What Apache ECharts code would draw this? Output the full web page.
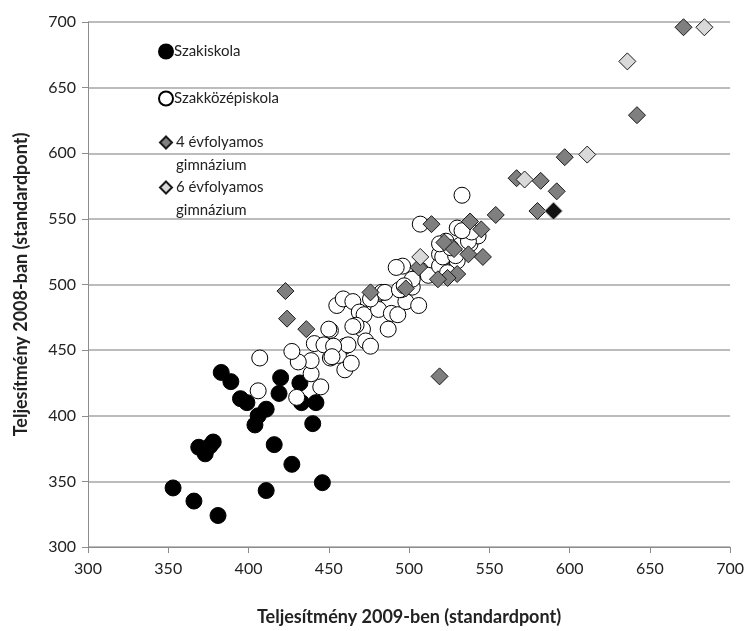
<!DOCTYPE html>
<html>
<head>
<meta charset="utf-8">
<script src="https://cdn.jsdelivr.net/npm/echarts@6/dist/echarts.min.js"></script>
<style>
html,body{margin:0;padding:0;background:#fff;}
#chart{width:747px;height:631px;}
</style>
</head>
<body>
<div id="chart"></div>
<script>
// ---- data (x = 2009 score, y = 2008 score) ----
const seriesNames = ['Szakiskola', 'Szakközépiskola', '4 évfolyamos gimnázium', '6 évfolyamos gimnázium'];
const xTicks = [300, 700, 50];
const yTicks = [300, 700, 50];

const szakiskola = [
  [383,433],[389,426],[395,413],[399,410],[411,405],[406,400],[404,393],
  [420,429],[419,417],[432,425],[433,410],[442,410],[440,394],
  [369,376],[378,380],[373,371],[376,377],[416,378],[427,363],
  [353,345],[366,335],[381,324],[411,343],[446,349]
];

const szakkozep = [
  [407,444],[406,419],[430,414],[445,422],[439,432],[439,442],[431,441],[427,449],
  [441,455],[451,465],[447,454],[451,444],[460,453],[455,484],[459,489],[460,435],
  [456,446],[465,487],[469,479],[472,477],[478,486],[483,494],[481,481],[489,478],
  [493,477],[498,487],[506,484],[495,496],[487,466],[471,466],[467,469],[473,457],
  [476,453],[462,454],[453,453],[452,445],[464,440],[450,466],[476,489],[465,468],
  [507,546],[533,568],[530,543],[523,533],[538,531],[543,537],[519,523],[530,518],
  [496,514],[507,511],[512,507],[521,512],[485,494],[494,496],[502,498],[502,504],
  [492,513],[519,514],[521,521],[519,531],[532,530],[537,533],[539,540],[533,541],
  [529,522],[524,509],[497,499],[526,528]
];

const gimn4 = [
  [423,495],[424,474],[436,466],[476,494],[498,497],[514,546],[538,548],[545,542],
  [554,553],[522,532],[528,527],[537,523],[546,521],[506,513],[530,508],[524,505],
  [518,504],[567,581],[582,579],[592,571],[580,556],[597,597],[519,430],[671,696],
  [642,629]
];

const gimn6 = [
  [507,521],[572,580],[611,599],[636,670],[684,696]
];

// one marked (highlighted) point drawn in black
const kiemelt = [[590,556]];

const font = 'Lato, "Open Sans", "Liberation Sans", sans-serif';
const chart = echarts.init(document.getElementById('chart'), null, {renderer: 'canvas'});

function legendAt(name, top, iconSize) {
  const twoLine = name.indexOf('gimnázium') >= 0;
  return {
    show: true,
    data: [name],
    orient: 'vertical',
    left: twoLine ? 159 : 158,
    top: top,
    itemWidth: iconSize,
    itemHeight: iconSize,
    itemGap: 0,
    padding: 0,
    selectedMode: false,
    formatter: function (n) {
      return twoLine ? '\n' + n.replace(' gimnázium', '\ngimnázium') : n;
    },
    textStyle: {
      fontFamily: font,
      fontSize: 15,
      color: '#222',
      lineHeight: 23,
      padding: [0, 0, 0, twoLine ? -1 : -4]
    }
  };
}

const option = {
  animation: false,
  backgroundColor: '#fff',
  grid: {left: 88, right: 15, top: 22, bottom: 78, containLabel: false},
  legend: [
    legendAt(seriesNames[0], 40, 14),
    legendAt(seriesNames[1], 87, 14),
    legendAt(seriesNames[2], 108, 12),
    legendAt(seriesNames[3], 153, 12)
  ],
  xAxis: {
    type: 'value',
    min: xTicks[0], max: xTicks[1], interval: xTicks[2],
    name: 'Teljesítmény 2009-ben (standardpont)',
    nameLocation: 'middle',
    nameGap: 61,
    nameTextStyle: {fontFamily: font, fontSize: 18, fontWeight: 'bold', color: '#222'},
    axisLine: {show: true, lineStyle: {color: '#8c8c8c', width: 1}},
    axisTick: {show: true, inside: false, length: 6, lineStyle: {color: '#8c8c8c'}},
    axisLabel: {fontFamily: font, fontSize: 16, color: '#222', margin: 14},
    splitLine: {show: false}
  },
  yAxis: {
    type: 'value',
    min: yTicks[0], max: yTicks[1], interval: yTicks[2],
    name: 'Teljesítmény 2008-ban (standardpont)',
    nameLocation: 'middle',
    nameGap: 58,
    nameTextStyle: {fontFamily: font, fontSize: 18, fontWeight: 'bold', color: '#222'},
    axisLine: {show: true, lineStyle: {color: '#8c8c8c', width: 1}},
    axisTick: {show: true, inside: false, length: 6, lineStyle: {color: '#8c8c8c'}},
    axisLabel: {fontFamily: font, fontSize: 16, color: '#222', margin: 12},
    splitLine: {show: true, lineStyle: {color: '#a6a6a6', width: 1.5}}
  },
  series: [
    {
      name: seriesNames[0], type: 'scatter', data: szakiskola,
      symbol: 'circle', symbolSize: 16,
      itemStyle: {color: '#000', borderColor: '#000', borderWidth: 1, opacity: 1}
    },
    {
      name: seriesNames[1], type: 'scatter', data: szakkozep,
      symbol: 'circle', symbolSize: 16,
      itemStyle: {color: '#fff', borderColor: '#000', borderWidth: 1, opacity: 1}
    },
    {
      name: seriesNames[2], type: 'scatter', data: gimn4,
      symbol: 'diamond', symbolSize: 17,
      itemStyle: {color: '#7f7f7f', borderColor: '#1a1a1a', borderWidth: 1, opacity: 1}
    },
    {
      name: seriesNames[3], type: 'scatter', data: gimn6,
      symbol: 'diamond', symbolSize: 17,
      itemStyle: {color: '#d9d9d9', borderColor: '#1a1a1a', borderWidth: 1, opacity: 1}
    },
    {
      name: 'kiemelt', type: 'scatter', data: kiemelt,
      symbol: 'diamond', symbolSize: 18,
      itemStyle: {color: '#111', borderColor: '#ccc', borderWidth: 1, opacity: 1}
    }
  ]
};
chart.setOption(option);
</script>
</body>
</html>
